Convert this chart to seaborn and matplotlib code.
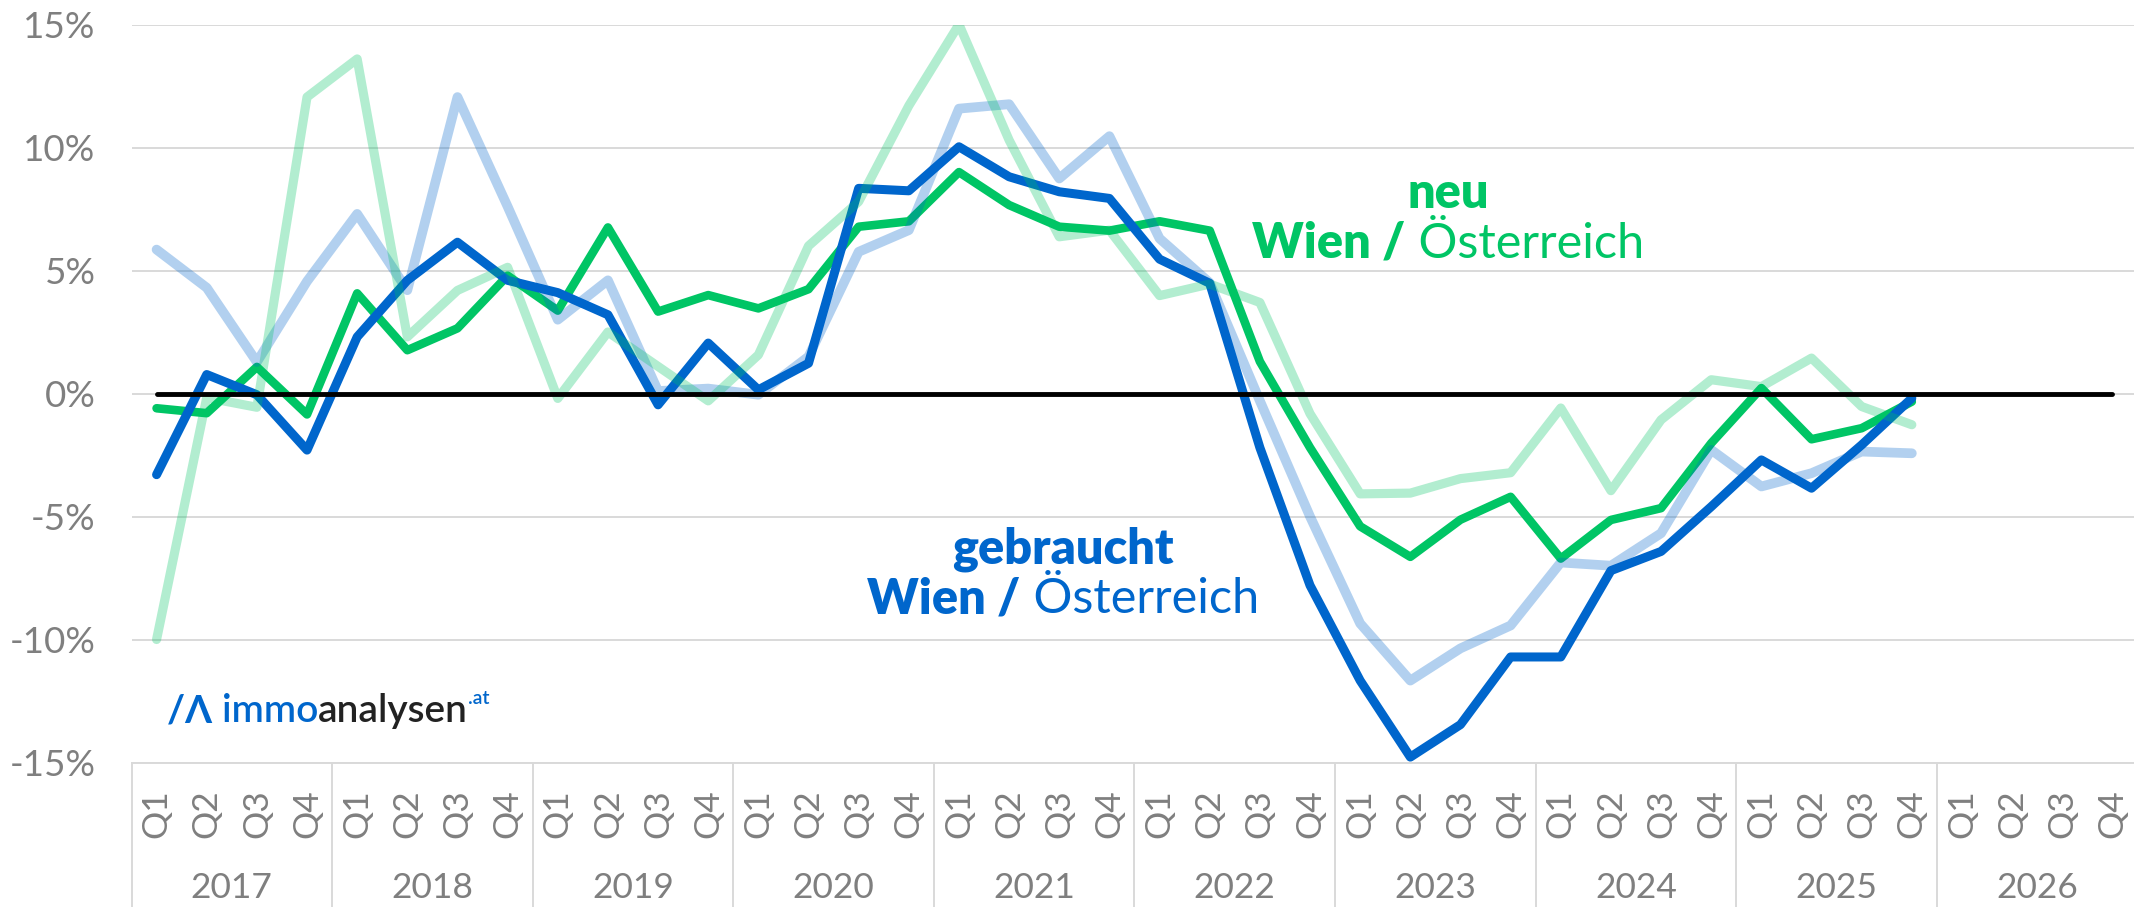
import matplotlib
matplotlib.use("Agg")
import matplotlib.pyplot as plt
import seaborn as sns
import pandas as pd
from matplotlib.transforms import blended_transform_factory

# ---------------- data ----------------
years = ["2017", "2018", "2019", "2020", "2021", "2022", "2023", "2024", "2025", "2026"]
quarters = ["Q1", "Q2", "Q3", "Q4"]
y_tick_values = [-15, -10, -5, 0, 5, 10, 15]
y_tick_labels = ["-15%", "-10%", "-5%", "0%", "5%", "10%", "15%"]

# Wien gebraucht (dark blue), 2017Q1 .. 2025Q4
wien_gebraucht = [-3.3, 0.77, -0.05, -2.3, 2.3, 4.6, 6.15, 4.6, 4.1, 3.2,
                  -0.46, 2.05, 0.15, 1.23, 8.34, 8.24, 10.03, 8.81, 8.2, 7.93,
                  5.46, 4.48, -2.2, -7.8, -11.67, -14.78, -13.46, -10.71, -10.71, -7.2,
                  -6.42, -4.6, -2.7, -3.85, -2.09, -0.19]
# Wien neu (green)
wien_neu = [-0.6, -0.8, 1.08, -0.85, 4.07, 1.76, 2.65, 4.79, 3.37, 6.75,
            3.33, 4.0, 3.46, 4.24, 6.78, 7.0, 9.0, 7.66, 6.78, 6.62,
            7.0, 6.62, 1.3, -2.2, -5.4, -6.64, -5.13, -4.2, -6.71, -5.14,
            -4.66, -2.02, 0.22, -1.86, -1.41, -0.33]
# Österreich gebraucht (light blue)
oe_gebraucht = [5.85, 4.3, 1.28, 4.56, 7.3, 4.2, 12.05, 7.6, 3.0, 4.6,
                0.1, 0.2, -0.05, 1.5, 5.76, 6.64, 11.58, 11.76, 8.74, 10.46,
                6.3, 4.5, -0.3, -5.0, -9.35, -11.67, -10.36, -9.43, -6.87, -7.0,
                -5.68, -2.29, -3.78, -3.24, -2.36, -2.43]
# Österreich neu (light green)
oe_neu = [-10.0, -0.17, -0.56, 12.05, 13.6, 2.3, 4.19, 5.13, -0.2, 2.5,
          1.1, -0.3, 1.57, 6.0, 7.8, 11.7, 15.0, 10.3, 6.37, 6.64,
          3.98, 4.45, 3.7, -0.82, -4.08, -4.05, -3.46, -3.22, -0.59, -3.95,
          -1.07, 0.56, 0.28, 1.44, -0.53, -1.27]

categories = [f"{q} {y}" for y in years for q in quarters]
baseline = [0.0] * len(categories)

# ---------------- style ----------------
BLUE = "#0066CC"
GREEN = "#00C565"
GRAY = "#7F7F7F"
GRID = "#D9D9D9"
W, H = 2134, 907

sns.set_theme(style="white")
FONT = ["Lato", "DejaVu Sans"]
plt.rcParams["font.family"] = FONT

fig = plt.figure(figsize=(W / 100, H / 100), dpi=100)
ax = fig.add_axes([131.5 / W, (H - 762.5) / H, 2006 / W, 738 / H])

def frame(values, name):
    return pd.DataFrame({"x": range(len(values)), "value": values, "series": name})

series_specs = [
    (wien_neu, "Wien neu", GREEN, 6.2, 1.0, 3),
    (wien_gebraucht, "Wien gebraucht", BLUE, 6.5, 1.0, 4),
    (oe_gebraucht, "Österreich gebraucht", BLUE, 7.0, 0.3, 5),
    (oe_neu, "Österreich neu", GREEN, 6.6, 0.3, 6),
]
for vals, name, col, lw, alpha, z in series_specs:
    sns.lineplot(data=frame(vals, name), x="x", y="value", color=col, linewidth=lw,
                 alpha=alpha, ax=ax, sort=False, estimator=None, zorder=z,
                 solid_capstyle="round", solid_joinstyle="round", legend=False)

sns.lineplot(data=frame(baseline, "0"), x="x", y="value", color="black", linewidth=3.5,
             ax=ax, sort=False, estimator=None, zorder=7, solid_capstyle="round", legend=False)

ax.set_xlim(-0.5, len(categories) - 0.5)
ax.set_ylim(-15, 15)
ax.set_xlabel("")
ax.set_ylabel("")

ax.set_yticks(y_tick_values)
ax.set_yticklabels(y_tick_labels)
ax.tick_params(axis="y", length=0, pad=26, labelsize=26.5, labelcolor=GRAY)
ax.yaxis.grid(True, color=GRID, linewidth=1.4, zorder=0)
ax.xaxis.grid(False)
ax.set_axisbelow(True)

ax.set_xticks(range(len(categories)))
ax.set_xticklabels([c.split()[0] for c in categories], rotation=90)
ax.tick_params(axis="x", length=0, pad=19, labelsize=25.5, labelcolor=GRAY)

for s in ["top", "right", "left"]:
    ax.spines[s].set_visible(False)
ax.spines["bottom"].set_color(GRID)
ax.spines["bottom"].set_linewidth(1.4)

trans = blended_transform_factory(ax.transData, ax.transAxes)
bottom_frac = -(H - 762.5) / 738
for k in range(len(years)):
    ax.plot([4 * k - 0.5, 4 * k - 0.5], [0, bottom_frac], transform=trans,
            color=GRID, linewidth=1.4, clip_on=False, zorder=1)
    ax.text(4 * k + 1.5, -0.170, years[k], transform=trans, ha="center", va="center",
            fontsize=25.5, color=GRAY)

# ---------------- annotations ----------------
renderer = fig.canvas.get_renderer()

def mixed_text(parts, xc, yb, size):
    texts = []
    for s, weight, color in parts:
        t = fig.text(0, 1 - yb / H, s, fontsize=size, fontweight=weight, color=color,
                     ha="left", va="baseline")
        texts.append(t)
    widths = [t.get_window_extent(renderer).width for t in texts]
    x = xc - sum(widths) / 2
    for t, w in zip(texts, widths):
        t.set_x(x / W)
        x += w

def left_text(parts, x0, yb):
    x = x0
    for s, weight, color, size, dy in parts:
        t = fig.text(x / W, 1 - (yb - dy) / H, s, fontsize=size, fontweight=weight,
                     color=color, ha="left", va="baseline")
        x += t.get_window_extent(renderer).width

mixed_text([("neu", "heavy", GREEN)], 1448, 208, 35)
mixed_text([("Wien /", "heavy", GREEN), (" Österreich", "normal", GREEN)], 1448, 258, 35)
mixed_text([("gebraucht", "heavy", BLUE)], 1063, 563, 35)
mixed_text([("Wien /", "heavy", BLUE), (" Österreich", "normal", BLUE)], 1063, 613, 35)

left_text([("/\u039B ", "bold", BLUE, 28, 0), ("immo", "semibold", BLUE, 28, 0),
           ("analysen", "semibold", "#222222", 28, 0), (".at", "semibold", BLUE, 14, 18)],
          167, 722)

fig.savefig("out.png", dpi=100)
